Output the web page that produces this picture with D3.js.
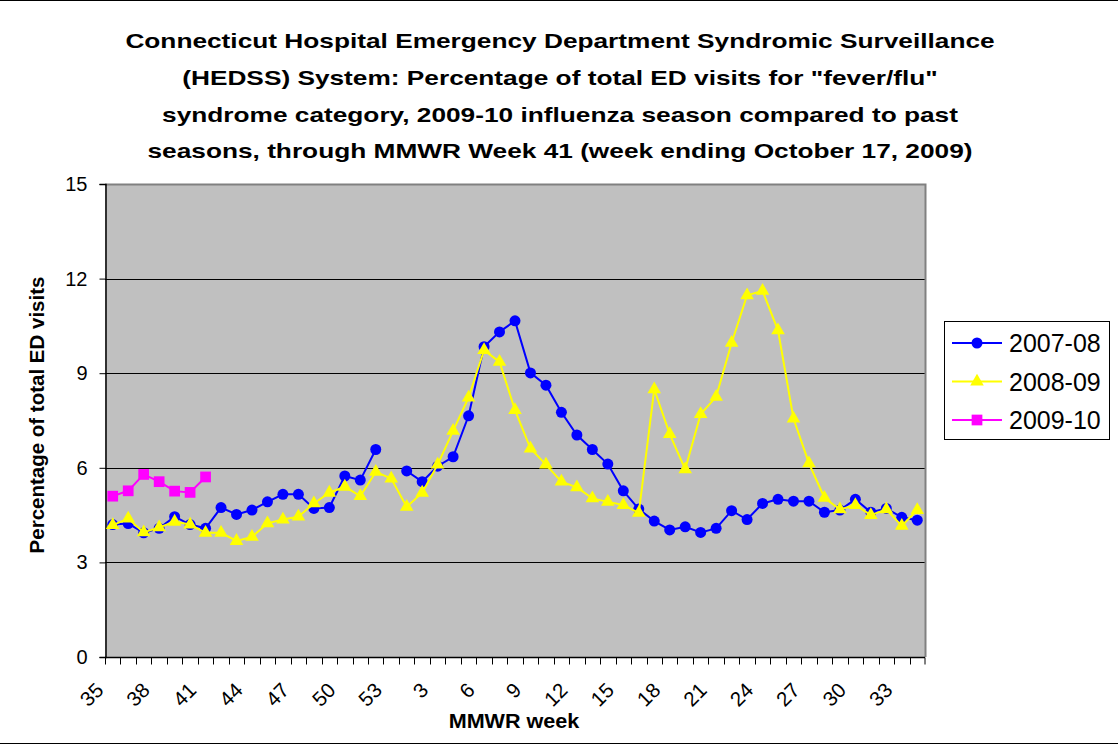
<!DOCTYPE html>
<html>
<head>
<meta charset="utf-8">
<script src="https://cdn.jsdelivr.net/npm/d3@7"></script>
<style>
  body { margin: 0; background: #fff; }
  svg { display: block; font-family: "Liberation Sans", Arial, sans-serif; }
</style>
</head>
<body>
<div id="chart"></div>
<script>
// MMWR weeks, 35..53 then 1..34
const weeks = ["35","36","37","38","39","40","41","42","43","44","45","46","47","48","49","50","51","52","53",
  "1","2","3","4","5","6","7","8","9","10","11","12","13","14","15","16","17",
  "18","19","20","21","22","23","24","25","26","27","28","29","30","31","32","33","34"];

const season0708 = [4.20, 4.23, 3.94, 4.08, 4.45, 4.20, 4.08, 4.74, 4.52, 4.66, 4.92, 5.16, 5.16, 4.71, 4.74, 5.74, 5.61, 6.58, null,
  5.90, 5.56, 6.05, 6.35, 7.65, 9.84, 10.31, 10.66, 9.01, 8.62, 7.76, 7.04, 6.58, 6.12, 5.27, 4.69,
  4.31, 4.03, 4.13, 3.95, 4.08, 4.64, 4.36, 4.87, 5.00, 4.94, 4.94, 4.59, 4.66, 5.00, 4.59, 4.71, 4.43, 4.34];

const season0809 = [4.18, 4.39, 3.95, 4.11, 4.29, 4.20, 3.94, 3.94, 3.68, 3.81, 4.24, 4.36, 4.45, 4.87, 5.21, 5.40, 5.10, 5.87, 5.66,
  4.76, 5.21, 6.10, 7.17, 8.23, 9.73, 9.36, 7.83, 6.61, 6.10, 5.56, 5.38, 5.03, 4.92, 4.82, 4.57,
  8.49, 7.07, 5.95, 7.70, 8.25, 9.96, 11.47, 11.61, 10.36, 7.56, 6.14, 5.05, 4.68, 4.82, 4.50, 4.68, 4.16, 4.66];

const season0910 = [5.10, 5.27, 5.79, 5.56, 5.26, 5.22, 5.71];

const seriesNames = ["2007-08", "2008-09", "2009-10"];
const yTicks = [0, 3, 6, 9, 12, 15];
const titleLines = [
  "Connecticut Hospital Emergency Department Syndromic Surveillance",
  "(HEDSS) System: Percentage of total ED visits for \"fever/flu\"",
  "syndrome category, 2009-10 influenza season compared to past",
  "seasons, through MMWR Week 41 (week ending October 17, 2009)"
];

const width = 1118, height = 745;
const plot = { left: 105, right: 925, top: 184, bottom: 657 };

const series = [
  { name: seriesNames[0], values: season0708, color: "#0000ff", shape: d3.symbolCircle, size: 95 },
  { name: seriesNames[1], values: season0809, color: "#ffff00", shape: d3.symbolTriangle, size: 80 },
  { name: seriesNames[2], values: season0910, color: "#ff00ff", shape: d3.symbolSquare, size: 115 }
];

const svg = d3.select("#chart").append("svg")
  .attr("width", width)
  .attr("height", height);

svg.append("rect").attr("width", width).attr("height", height).attr("fill", "#fff");
// chart frame top & bottom
svg.append("line").attr("x1", 0).attr("x2", width).attr("y1", 0.5).attr("y2", 0.5).attr("stroke", "#000");
svg.append("line").attr("x1", 0).attr("x2", width).attr("y1", 743.5).attr("y2", 743.5).attr("stroke", "#000");

const x = d3.scaleBand()
  .domain(weeks)
  .range([plot.left, plot.right]);

const y = d3.scaleLinear()
  .domain([0, 15])
  .range([plot.bottom, plot.top]);

// plot background
svg.append("rect")
  .attr("x", plot.left).attr("y", plot.top)
  .attr("width", plot.right - plot.left).attr("height", plot.bottom - plot.top)
  .attr("fill", "#c0c0c0");

// gridlines
svg.append("g")
  .selectAll("line")
  .data(yTicks.filter(d => d > 0 && d < 15))
  .join("line")
  .attr("x1", plot.left).attr("x2", plot.right)
  .attr("y1", d => Math.round(y(d)) + 0.5).attr("y2", d => Math.round(y(d)) + 0.5)
  .attr("stroke", "#000");

// plot border (grey top and right)
svg.append("path")
  .attr("d", `M${plot.left},${plot.top + 0.5}H${plot.right + 0.5}V${plot.bottom}`)
  .attr("fill", "none")
  .attr("stroke", "#808080")
  .attr("stroke-width", 2);

// y axis
const yAxis = svg.append("g")
  .attr("transform", `translate(${plot.left + 0.5},0)`)
  .call(d3.axisLeft(y).tickValues(yTicks).tickSize(6).tickPadding(12));
yAxis.select(".domain").attr("stroke", "#000").attr("stroke-width", 1.5);
yAxis.selectAll("text").style("font-size", "20px").attr("fill", "#000");

// x axis: ticks between categories, a label every 3rd week
const xg = svg.append("g").attr("transform", `translate(0,${plot.bottom + 0.5})`);
xg.append("line")
  .attr("x1", plot.left).attr("x2", plot.right)
  .attr("stroke", "#000").attr("stroke-width", 1.5);
xg.selectAll("line.tick")
  .data(weeks.concat([null]))
  .join("line")
  .attr("class", "tick")
  .attr("x1", d => d === null ? plot.right : Math.round(x(d)) + 0.5)
  .attr("x2", d => d === null ? plot.right : Math.round(x(d)) + 0.5)
  .attr("y1", 0).attr("y2", 7)
  .attr("stroke", "#000");
xg.selectAll("text")
  .data(weeks.filter((d, i) => i % 3 === 0))
  .join("text")
  .attr("transform", d => `translate(${x(d) + x.bandwidth() / 2 - 8},${34}) rotate(-45)`)
  .attr("text-anchor", "end")
  .style("font-size", "20.5px")
  .text(d => d);

// series
const line = d3.line()
  .defined(d => d.v !== null && d.v !== undefined)
  .x(d => x(d.w) + x.bandwidth() / 2)
  .y(d => y(d.v));

series.forEach(s => {
  const pts = s.values.map((v, i) => ({ w: weeks[i], v }));
  svg.append("path")
    .datum(pts)
    .attr("fill", "none")
    .attr("stroke", s.color)
    .attr("stroke-width", 2)
    .attr("d", line);
  svg.append("g")
    .selectAll("path")
    .data(pts.filter(p => p.v !== null))
    .join("path")
    .attr("transform", p => `translate(${x(p.w) + x.bandwidth() / 2},${y(p.v)})`)
    .attr("d", d3.symbol(s.shape, s.size))
    .attr("fill", s.color);
});

// title (wide bold face, stretched horizontally as in the original)
svg.append("text")
  .attr("transform", "translate(560,0) scale(1.25,1)")
  .attr("text-anchor", "middle")
  .style("font-size", "21px")
  .style("font-weight", "bold")
  .selectAll("tspan")
  .data(titleLines)
  .join("tspan")
  .attr("x", 0)
  .attr("y", (d, i) => 48 + i * 36.8)
  .text(d => d);

// axis titles
svg.append("text")
  .attr("transform", "translate(44,415) rotate(-90)")
  .attr("text-anchor", "middle")
  .style("font-size", "20.5px")
  .style("font-weight", "bold")
  .text("Percentage of total ED visits");

svg.append("text")
  .attr("transform", "translate(514,728) scale(1.08,1)")
  .attr("text-anchor", "middle")
  .style("font-size", "20px")
  .style("font-weight", "bold")
  .text("MMWR week");

// legend
const legend = svg.append("g");
legend.append("rect")
  .attr("x", 944.5).attr("y", 321.5)
  .attr("width", 165).attr("height", 118)
  .attr("fill", "#fff").attr("stroke", "#000");
const items = legend.selectAll("g.item")
  .data(series)
  .join("g")
  .attr("class", "item")
  .attr("transform", (d, i) => `translate(0,${343 + i * 38.5})`);
items.append("line")
  .attr("x1", 952).attr("x2", 1002)
  .attr("stroke", d => d.color).attr("stroke-width", 2);
items.append("path")
  .attr("transform", "translate(977,0)")
  .attr("d", d => d3.symbol(d.shape, d.size)())
  .attr("fill", d => d.color);
items.append("text")
  .attr("x", 1009).attr("dy", "0.36em")
  .style("font-size", "25px")
  .text(d => d.name);
</script>
</body>
</html>
